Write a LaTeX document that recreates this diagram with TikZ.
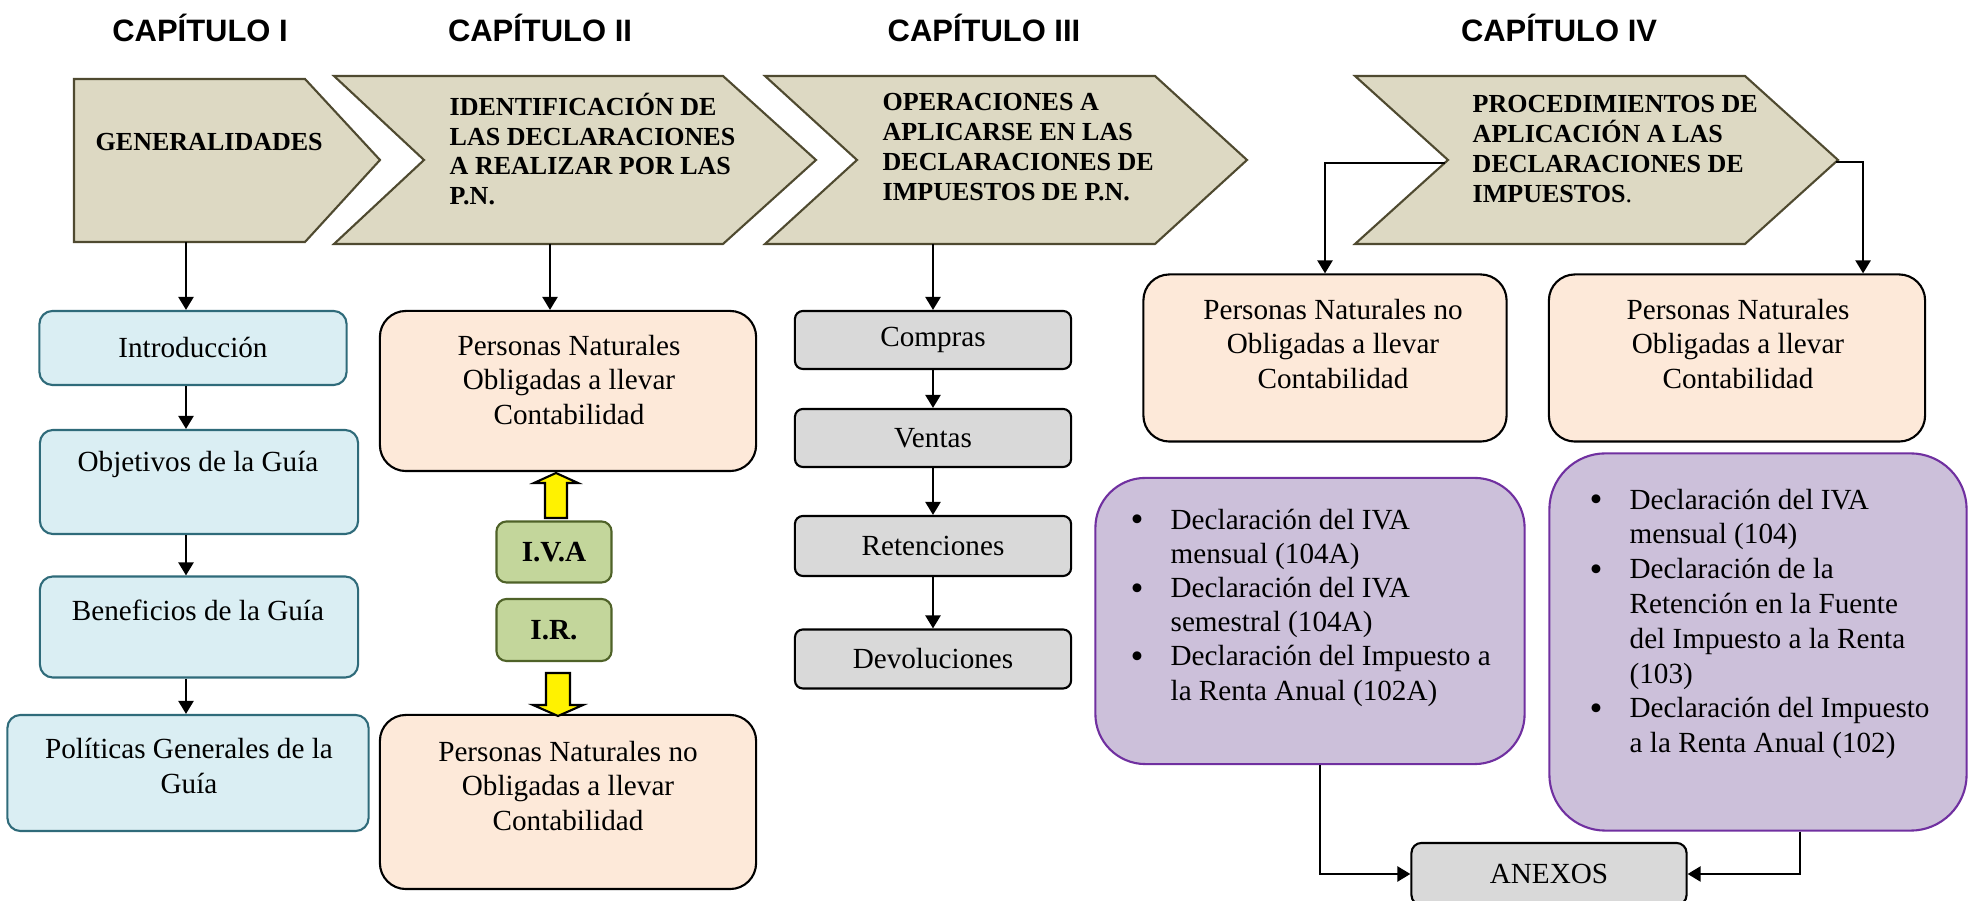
\documentclass[tikz,border=0pt]{standalone}
\usepackage{fontspec}
\setmainfont{Liberation Serif}
\newfontfamily\headfont{Liberation Sans}
\usepackage{xcolor}
\usetikzlibrary{
    arrows.meta,
    positioning,
    calc
}

\definecolor{chevfill}{HTML}{DDD9C3}
\definecolor{chevline}{HTML}{4F4A30}
\definecolor{bluefill}{HTML}{DAEEF3}
\definecolor{bluebord}{HTML}{2F6B7A}
\definecolor{peachfill}{HTML}{FDE9D9}
\definecolor{greyfill}{HTML}{D9D9D9}
\definecolor{greenfill}{HTML}{C3D69B}
\definecolor{greenbord}{HTML}{4F6228}
\definecolor{purfill}{HTML}{CCC0DA}
\definecolor{purbord}{HTML}{7030A0}

\newcommand{\bul}{\raisebox{-0.7pt}{\fontsize{10.5}{9.7}\selectfont\textbullet}}

\begin{document}
\begin{tikzpicture}[
    x=0.01cm, y=-0.01cm,
    head/.style={
        font=\headfont\bfseries\fontsize{8.8}{10}\selectfont,
        inner sep=0
    },
    chev/.style={
        draw=chevline,
        fill=chevfill,
        line width=0.6pt
    },
    chevtxt/.style={
        font=\bfseries\fontsize{7.4}{8.5}\selectfont,
        align=left,
        anchor=west,
        inner sep=0
    },
    txt/.style={
        font=\fontsize{8.3}{9.7}\selectfont,
        align=center,
        inner sep=0
    },
    bluebox/.style={
        rectangle,
        rounded corners=0.13cm,
        draw=bluebord,
        fill=bluefill,
        line width=0.6pt,
        font=\fontsize{8.3}{9.7}\selectfont
    },
    peachbox/.style={
        rectangle,
        rounded corners=0.26cm,
        draw=black,
        fill=peachfill,
        line width=0.6pt
    },
    greybox/.style={
        rectangle,
        rounded corners=0.08cm,
        draw=black,
        fill=greyfill,
        line width=0.6pt,
        font=\fontsize{8.3}{9.7}\selectfont
    },
    greenbox/.style={
        rectangle,
        rounded corners=0.1cm,
        draw=greenbord,
        fill=greenfill,
        line width=0.6pt,
        font=\bfseries\fontsize{8.3}{9.7}\selectfont
    },
    purbox/.style={
        rectangle,
        draw=purbord,
        fill=purfill,
        line width=0.6pt
    },
    yarr/.style={draw=black, fill=yellow, line width=0.6pt},
    arr/.style={draw, line width=0.6pt, -{Triangle[length=3.7pt,width=4.3pt]}}
]

\useasboundingbox (0,0) rectangle (1975,901);

% Chapter titles
\node[head] (cap1) at (200,28) {CAPÍTULO I};
\node[head] (cap2) at (540,28) {CAPÍTULO II};
\node[head] (cap3) at (984,28) {CAPÍTULO III};
\node[head] (cap4) at (1559,28) {CAPÍTULO IV};

% Chevrons
\draw[chev] (74,79) -- (305,79) -- (380,160) -- (305,242) -- (74,242) -- cycle;
\draw[chev] (334,76) -- (723,76) -- (816,160) -- (723,244) -- (334,244) -- (424,160) -- cycle;
\draw[chev] (765,76) -- (1155,76) -- (1247,160) -- (1155,244) -- (765,244) -- (857,160) -- cycle;
\draw[chev] (1355,76) -- (1745,76) -- (1838,160) -- (1745,244) -- (1355,244) -- (1448,160) -- cycle;

\node[chevtxt] (gen) at (95,142) {GENERALIDADES};
\node[chevtxt] (ident) at (449,149) {IDENTIFICACIÓN DE\\LAS DECLARACIONES\\A REALIZAR POR LAS\\P.N.};
\node[chevtxt] (oper) at (882,147) {OPERACIONES A\\APLICARSE EN LAS\\DECLARACIONES DE\\IMPUESTOS DE P.N.};
\node[chevtxt] (proc) at (1472,149) {PROCEDIMIENTOS DE\\APLICACIÓN A LAS\\DECLARACIONES DE\\IMPUESTOS\mdseries.};

\coordinate (c1b) at (186,242);
\coordinate (c2b) at (550,244);
\coordinate (c3b) at (933,244);
\coordinate (c4l) at (1445,163);
\coordinate (c4r) at (1836,162);

% Chapter I
\node[bluebox, minimum width=3.07cm, minimum height=0.74cm] (intro) at (193,348) {Introducción};
\node[bluebox, minimum width=3.18cm, minimum height=1.04cm] (obj) at (199,482) {};
\node[txt] (objt) at (198,464) {Objetivos de la Guía};
\node[bluebox, minimum width=3.18cm, minimum height=1.01cm] (ben) at (199,627) {};
\node[txt] (bent) at (198,610) {Beneficios de la Guía};
\node[bluebox, minimum width=3.61cm, minimum height=1.16cm] (pol) at (188,773) {};
\node[txt] (polt) at (189,766) {Políticas Generales de la\\Guía};

\draw[arr] (c1b) -- (c1b |- intro.north);
\draw[arr] (c1b |- intro.south) -- (c1b |- obj.north);
\draw[arr] (c1b |- obj.south) -- (c1b |- ben.north);
\draw[arr] (c1b |- ben.south) -- (c1b |- pol.north);

% Chapter II
\node[peachbox, minimum width=3.76cm, minimum height=1.60cm] (pnobl) at (568,391) {};
\node[txt] (pnoblt) at (569,380) {Personas Naturales\\Obligadas a llevar\\Contabilidad};
\node[greenbox, minimum width=1.15cm, minimum height=0.61cm] (iva) at (554,552) {I.V.A};
\node[greenbox, minimum width=1.15cm, minimum height=0.62cm] (ir) at (554,630) {I.R.};
\node[peachbox, minimum width=3.76cm, minimum height=1.74cm] (pnno) at (568,802) {};
\node[txt] (pnnot) at (568,786) {Personas Naturales no\\Obligadas a llevar\\Contabilidad};

\draw[arr] (c2b) -- (c2b |- pnobl.north);
\draw[yarr] (545,518) -- (545,483) -- (534,483) -- (556,473) -- (578,483) -- (567,483) -- (567,518) -- cycle;
\draw[yarr] (546,673) -- (546,705) -- (533,705) -- (558,716) -- (583,705) -- (570,705) -- (570,673) -- cycle;

% Chapter III
\node[greybox, minimum width=2.76cm, minimum height=0.58cm] (compras) at (933,340) {Compras};
\node[greybox, minimum width=2.76cm, minimum height=0.58cm] (ventas) at (933,438) {Ventas};
\node[greybox, minimum width=2.76cm, minimum height=0.60cm] (reten) at (933,546) {Retenciones};
\node[greybox, minimum width=2.76cm, minimum height=0.59cm] (devol) at (933,659) {Devoluciones};

\draw[arr] (c3b) -- (compras);
\draw[arr] (compras) -- (ventas);
\draw[arr] (ventas) -- (reten);
\draw[arr] (reten) -- (devol);

% Chapter IV
\node[peachbox, minimum width=3.63cm, minimum height=1.67cm] (pnnoB) at (1325,358) {};
\node[txt] (pnnoBt) at (1333,344) {Personas Naturales no\\Obligadas a llevar\\Contabilidad};
\node[peachbox, minimum width=3.76cm, minimum height=1.67cm] (pnoblB) at (1737,358) {};
\node[txt] (pnoblBt) at (1738,344) {Personas Naturales\\Obligadas a llevar\\Contabilidad};

\draw[arr] (c4l) -| (pnnoB.north);
\draw[arr] (c4r) -| ([xshift=1.26cm]pnoblB.north);

\node[purbox, rounded corners=0.5cm, minimum width=4.29cm, minimum height=2.86cm] (declA) at (1310,621) {};
\node[txt, align=left, anchor=west] (declAt) at (1130,608) {%
    \begin{tabular}{@{}l@{\hspace{0.27cm}}l@{}}
    \bul & Declaración del IVA\\
         & mensual (104A)\\
    \bul & Declaración del IVA\\
         & semestral (104A)\\
    \bul & Declaración del Impuesto a\\
         & la Renta Anual (102A)
    \end{tabular}};
\node[purbox, rounded corners=0.56cm, minimum width=4.17cm, minimum height=3.77cm] (declB) at (1758,642) {};
\node[txt, align=left, anchor=west, font=\fontsize{8.3}{9.9}\selectfont] (declBt) at (1589,624) {%
    \begin{tabular}{@{}l@{\hspace{0.27cm}}l@{}}
    \bul & Declaración del IVA\\
         & mensual (104)\\
    \bul & Declaración de la\\
         & Retención en la Fuente\\
         & del Impuesto a la Renta\\
         & (103)\\
    \bul & Declaración del Impuesto\\
         & a la Renta Anual (102)
    \end{tabular}};

% Anexos
\node[greybox, rounded corners=0.1cm, minimum width=2.75cm, minimum height=0.62cm] (anexos) at (1549,874) {ANEXOS};

\draw[arr] ([xshift=0.1cm]declA.south) |- (anexos.west);
\draw[arr] ([xshift=0.42cm]declB.south) |- (anexos.east);

\end{tikzpicture}
\end{document}
